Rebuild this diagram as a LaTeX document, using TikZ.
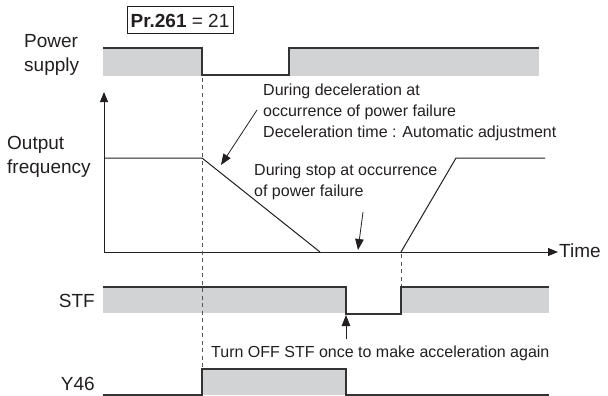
\documentclass[tikz,border=0pt]{standalone}
\usepackage{fontspec}
\setmainfont{Liberation Sans}
\usetikzlibrary{arrows.meta,positioning}
\definecolor{TCInk}{HTML}{231F20}
\definecolor{TCLine}{HTML}{333333}
\definecolor{TCFill}{HTML}{D1D3D4}
\definecolor{TCGuide}{HTML}{555555}
\tikzset{
  sigfill/.style={fill=TCFill,draw=none},
  sigline/.style={draw=TCLine,line width=1.2pt,line join=miter},
  axis/.style={-{Triangle[length=10pt,width=8pt]},TCInk,line width=1.0pt},
  curve/.style={TCInk,line width=1.0pt},
  guide/.style={TCGuide,line width=1.0pt,dash pattern=on 4pt off 3.5pt},
  pointer/.style={-{Triangle[length=11pt,width=8.5pt]},TCInk,line width=0.8pt},
  biglabel/.style={text=TCInk,font=\fontsize{19}{24}\selectfont,inner sep=0pt},
  smalllabel/.style={text=TCInk,font=\fontsize{16}{21}\selectfont,inner sep=0pt,align=left},
  prbox/.style={draw=TCInk,line width=1.0pt,text=TCInk,font=\fontsize{19}{23}\selectfont,
                minimum width=106pt,minimum height=27pt,inner sep=0pt},
}
\begin{document}
\begin{tikzpicture}[x=1pt,y=-1pt]
  \useasboundingbox (0,0) rectangle (608,396);

  % signal names
  \node[prbox] (pr) at (180,20.5) {\textbf{Pr.261} = 21};
  \node[biglabel,align=left,anchor=west] (power) at (24,55) {Power\\supply};
  \node[biglabel,align=left,anchor=west] (freq) at (7,157) {Output\\frequency};
  \node[biglabel,anchor=east] (stf) at (95,301) {STF};
  \node[biglabel,anchor=east] (y46) at (95,384) {Y46};

  % power supply
  \fill[sigfill] (103,48) rectangle (202,76);
  \fill[sigfill] (289,48) rectangle (539,76);
  \draw[sigline] (103,48) -- (202,48) -- (202,75) -- (289,75) -- (289,48) -- (539,48);

  % output frequency
  \coordinate (origin) at (104,252);
  \coordinate (ytop) at (104,92);
  \coordinate (xend) at (558,252);
  \draw[axis] (origin) -- (ytop);
  \draw[axis] (origin) -- (xend);
  \node[biglabel,anchor=west] (time) at (559,251) {Time};
  \draw[curve] (104,158) -- (202,158) -- (320,252);
  \draw[curve] (401,252) -- (456,158) -- (545,158);

  % STF
  \fill[sigfill] (103,287) rectangle (346,313);
  \fill[sigfill] (401,287) rectangle (549,313);
  \draw[sigline] (103,287) -- (346,287) -- (346,314) -- (401,314) -- (401,287) -- (549,287);

  % Y46
  \fill[sigfill] (202,369) rectangle (346,395);
  \draw[sigline] (103,395) -- (202,395) -- (202,369) -- (346,369) -- (346,395) -- (549,395);

  % guides
  \draw[guide] (202,78) -- (202,368);
  \draw[guide] (401,254) -- (401,286);

  % notes
  \node[smalllabel,anchor=west] (decel) at (263,112)
    {During deceleration at\\occurrence of power failure\\Deceleration time : Automatic adjustment};
  \node[smalllabel,anchor=west] (stop) at (254,182)
    {During stop at occurrence\\of power failure};
  \node[smalllabel,anchor=west] (turnoff) at (211,353)
    {Turn OFF STF once to make acceleration again};
  \coordinate (decelFrom) at (257,110);
  \coordinate (decelTo) at (221,165);
  \coordinate (stopFrom) at (363,212);
  \coordinate (stopTo) at (358,250);
  \coordinate (offFrom) at (346,339);
  \coordinate (offTo) at (346,315);
  \draw[pointer] (decelFrom) -- (decelTo);
  \draw[pointer] (stopFrom) -- (stopTo);
  \draw[pointer] (offFrom) -- (offTo);
\end{tikzpicture}
\end{document}
